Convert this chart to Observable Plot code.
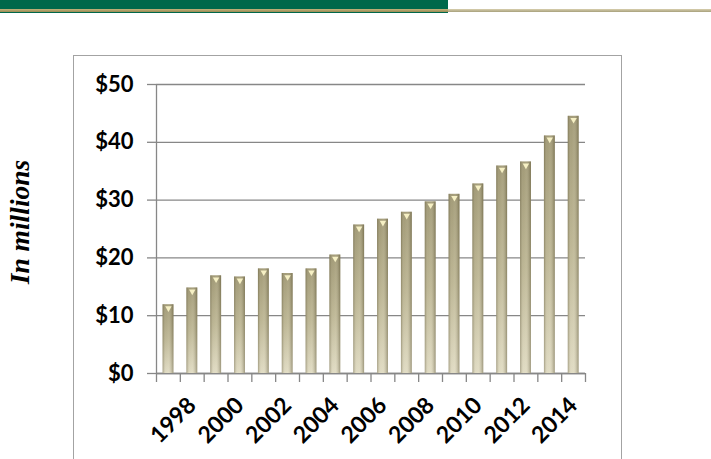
<!DOCTYPE html>
<html>
<head>
<meta charset="utf-8">
<script src="https://cdn.jsdelivr.net/npm/d3@7"></script>
<script src="https://cdn.jsdelivr.net/npm/@observablehq/plot@0.6"></script>
<style>
  html, body { margin: 0; padding: 0; background: #fff; }
  #wrap { position: relative; width: 711px; height: 459px; overflow: hidden; background: #fff; }
  #hdr { position: absolute; left: 0; top: 0; width: 448px; height: 13px; background: #00684a; }
  #goldL { position: absolute; left: 0; top: 9px; width: 448px; height: 2.5px; background: linear-gradient(#c2b27a, #9a8b55); }
  #goldR { position: absolute; left: 448px; top: 9px; width: 263px; height: 3px; background: linear-gradient(#d8cfae, #a7a07c); }
  #box { position: absolute; left: 73px; top: 55px; width: 549px; height: 430px; border: 1.5px solid #a3a3a3; box-sizing: border-box; }
  #ylab { position: absolute; left: 20px; top: 222px; transform: translate(-50%, -50%) rotate(-90deg);
          font-family: "Liberation Serif", "DejaVu Serif", serif; font-style: italic; font-weight: bold; font-size: 27.5px; white-space: nowrap; color: #000; }
  #chart { position: absolute; left: 0; top: 0; }
</style>
</head>
<body>
<div id="wrap">
  <div id="hdr"></div>
  <div id="goldL"></div>
  <div id="goldR"></div>
  <div id="box"></div>
  <div id="ylab">In millions</div>
  <div id="chart"></div>
</div>
<script>
// ---- data ----
const years  = [1997, 1998, 1999, 2000, 2001, 2002, 2003, 2004, 2005, 2006, 2007, 2008, 2009, 2010, 2011, 2012, 2013, 2014];
const values = [11.9, 14.8, 16.9, 16.7, 18.1, 17.3, 18.1, 20.5, 25.7, 26.7, 27.9, 29.7, 31.0, 32.8, 35.9, 36.6, 41.1, 44.5];
const yTicks = [0, 10, 20, 30, 40, 50];
const xLabelYears = [1998, 2000, 2002, 2004, 2006, 2008, 2010, 2012, 2014];

const data = years.map((y, i) => ({year: y, value: values[i]}));
const lo = years[0] - 0.5, hi = years[years.length - 1] + 0.5;
const boundaries = d3.range(years.length + 1).map(i => lo + i);

const gridColor = "#878787";
const axisFont = "Lato, 'Open Sans', sans-serif";

const chart = Plot.plot({
  width: 711,
  height: 459,
  marginLeft: 156,
  marginRight: 126,
  marginTop: 84,
  marginBottom: 86,
  style: {background: "transparent", fontFamily: axisFont, overflow: "visible"},
  x: {type: "linear", domain: [lo, hi]},
  y: {domain: [0, 50]},
  marks: [
    Plot.gridY(yTicks, {stroke: gridColor, strokeOpacity: 1, strokeWidth: 1.3}),
    Plot.axisY(yTicks, {tickSize: 9, tickPadding: 14, tickFormat: d => "$" + d, stroke: gridColor, strokeWidth: 1.3,
      fill: "#000", fontSize: 22, fontWeight: "bold", label: null}),
    Plot.ruleX([lo], {y1: 0, y2: 50, stroke: gridColor, strokeWidth: 1.3}),
    Plot.ruleY([0], {stroke: gridColor, strokeWidth: 1.3}),
    Plot.axisX(boundaries, {tickSize: 9, tickFormat: () => "", stroke: gridColor, strokeWidth: 1.3, label: null}),
    Plot.axisX(xLabelYears, {tickSize: 0, tickPadding: 28, tickRotate: -45, tickFormat: d => String(d),
      fill: "#000", fontSize: 23, fontWeight: "bold", label: null}),
    Plot.rectY(data, {x1: d => d.year - 0.5, x2: d => d.year + 0.5, y: "value", insetLeft: 6.6, insetRight: 6.4, fill: "url(#barGrad)"}),
    Plot.rectY(data, {x1: d => d.year - 0.5, x2: d => d.year + 0.5, y: "value", insetLeft: 6.6, insetRight: 6.4, fill: "url(#barShade)"}),
    Plot.dot(data, {x: "year", y: "value", symbol: "triangle", r: 2.4, rotate: 180, fill: "#f6f0c4", stroke: "none", dy: 3.5})
  ]
});

const defs = d3.select(chart).insert("defs", ":first-child");
const g1 = defs.append("linearGradient").attr("id", "barGrad").attr("x1", 0).attr("y1", 0).attr("x2", 0).attr("y2", 1);
g1.append("stop").attr("offset", "0%").attr("stop-color", "#958d68");
g1.append("stop").attr("offset", "50%").attr("stop-color", "#b4ad8a");
g1.append("stop").attr("offset", "100%").attr("stop-color", "#dcd7bf");
const g2 = defs.append("linearGradient").attr("id", "barShade").attr("x1", 0).attr("y1", 0).attr("x2", 1).attr("y2", 0);
g2.append("stop").attr("offset", "0%").attr("stop-color", "#5e573a").attr("stop-opacity", 0.45);
g2.append("stop").attr("offset", "30%").attr("stop-color", "#fffbe6").attr("stop-opacity", 0.12);
g2.append("stop").attr("offset", "55%").attr("stop-color", "#fffbe6").attr("stop-opacity", 0.18);
g2.append("stop").attr("offset", "100%").attr("stop-color", "#5e573a").attr("stop-opacity", 0.5);

document.getElementById("chart").appendChild(chart);
</script>
</body>
</html>
